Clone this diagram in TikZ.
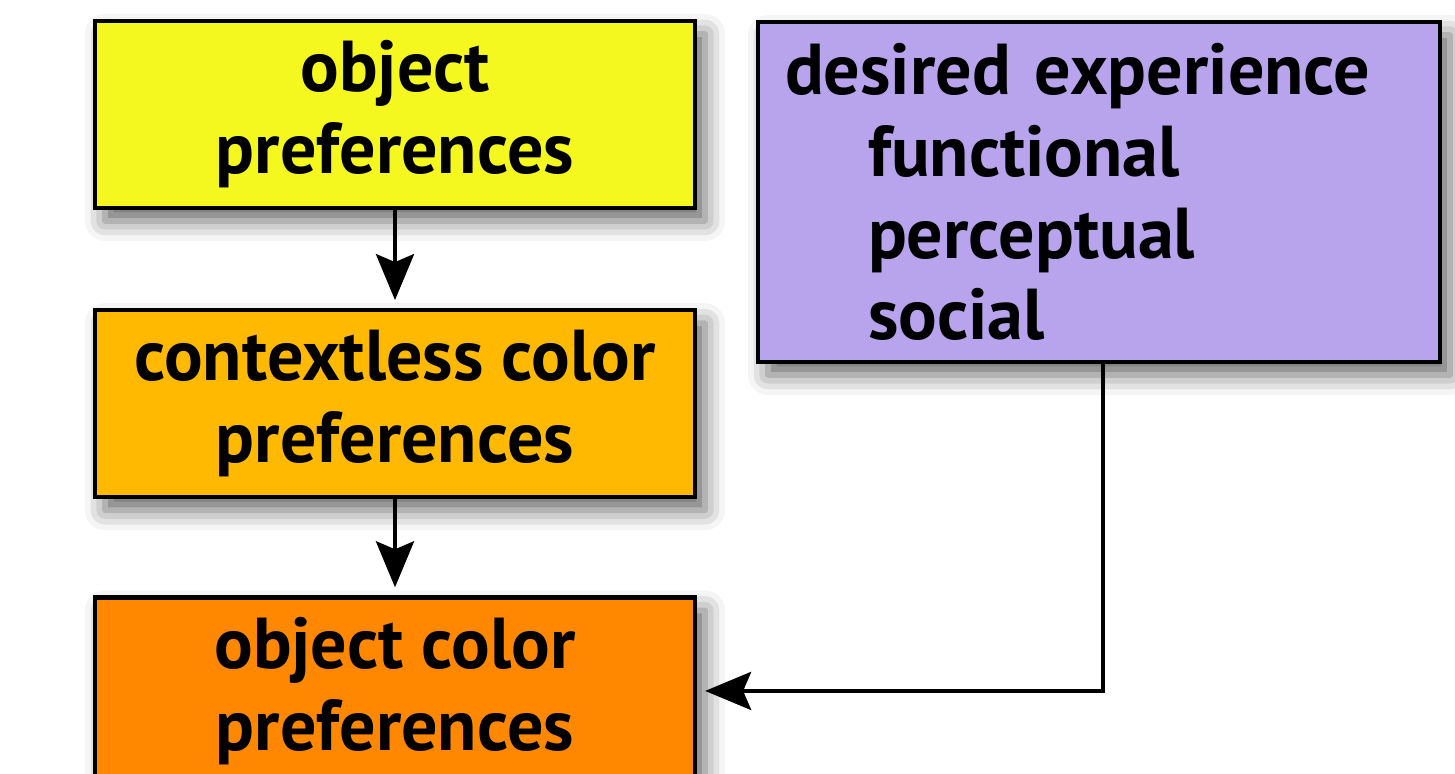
\documentclass[tikz,border=0pt]{standalone}
\usepackage{fontspec}
\setmainfont{PT Sans}
\usetikzlibrary{positioning}
\usetikzlibrary{arrows.meta}
\usetikzlibrary{shadows.blur}
\definecolor{prefyellow}{RGB}{245,248,30}
\definecolor{prefamber}{RGB}{255,185,0}
\definecolor{preforange}{RGB}{255,136,0}
\definecolor{exppurple}{RGB}{184,164,236}

\begin{document}
\begin{tikzpicture}[
    box/.style={draw, line width=1.2pt, minimum width=6cm, minimum height=1.87cm,
        align=center, font=\fontsize{20.5}{23.3}\selectfont\bfseries,
        blur shadow={shadow xshift=1mm, shadow yshift=-1.3mm, shadow blur radius=2mm, shadow opacity=60}},
    link/.style={-{Stealth[length=4.6mm, width=3.8mm, inset=0.8mm]}, line width=1.2pt}]
    \useasboundingbox (0,0) rectangle (14.55,-7.74);

    % Preference chain
    \node[box, fill=prefyellow] (objpref) at (3.95,-1.145) {object\\preferences};
    \node[box, fill=prefamber, below=0.98cm of objpref] (ctxpref) {contextless color\\preferences};
    \node[box, fill=preforange, below=0.96cm of ctxpref] (colpref) {object color\\preferences};

    % Experience box
    \node[box, fill=exppurple, minimum width=6.82cm, minimum height=3.4cm, align=left,
        text width=6.28cm, inner xsep=0.27cm] (exp) at (10.99,-1.92)
        {desired experience\\
         \hspace*{8.3mm}functional\\
         \hspace*{8.3mm}perceptual\\
         \hspace*{8.3mm}social};

    % Connections
    \draw[link, shorten >=0.8mm] (objpref) -- (ctxpref);
    \draw[link, shorten >=0.8mm] (ctxpref) -- (colpref);
    \draw[link, shorten >=0.8mm] ([xshift=0.4mm]exp.south) |- (colpref.east);
\end{tikzpicture}
\end{document}
